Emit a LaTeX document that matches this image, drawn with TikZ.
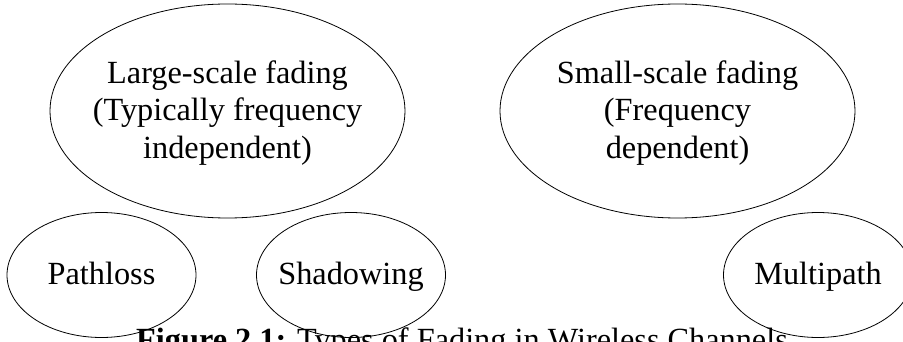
\documentclass[tikz,border=0pt]{standalone}
\usepackage{fontspec}
\setmainfont{Liberation Serif}
\usetikzlibrary{shapes.geometric}
\begin{document}
\begin{tikzpicture}[x=1pt,y=1pt,
  bubble/.style={draw=black, line width=0.8pt, shape=ellipse, inner sep=0pt},
  bigbubble/.style={bubble, minimum width=355pt, minimum height=214pt},
  smallbubble/.style={bubble, minimum width=189pt, minimum height=125pt},
  caption/.style={font=\fontsize{32.3}{37.5}\selectfont, text=black, inner sep=0pt},
  nodetext/.style={caption, align=center}]
  \clip (0,0) rectangle (903,-342);
  % fading categories
  \node[bigbubble] (large) at (227.5,-111) {};
  \node[bigbubble] (small) at (677.5,-111) {};
  \node[nodetext, yshift=-2pt] (largetxt) at (large.center) {Large-scale fading\\(Typically frequency\\independent)};
  \node[nodetext, yshift=-2pt] (smalltxt) at (small.center) {Small-scale fading\\(Frequency\\dependent)};
  % fading mechanisms
  \node[smallbubble] (path) at (101.5,-275) {};
  \node[smallbubble] (shad) at (351,-275) {};
  \node[smallbubble] (multi) at (818,-275) {};
  \node[nodetext, anchor=base] (pathtxt) at ([yshift=-9pt]path.center) {Pathloss};
  \node[nodetext, anchor=base] (shadtxt) at ([yshift=-9pt]shad.center) {Shadowing};
  \node[nodetext, anchor=base] (multitxt) at ([yshift=-9pt]multi.center) {Multipath};
  % caption
  \node[caption, anchor=base west] (cap) at (136,-350) {\textbf{Figure 2.1:} Types of Fading in Wireless Channels};
\end{tikzpicture}
\end{document}
